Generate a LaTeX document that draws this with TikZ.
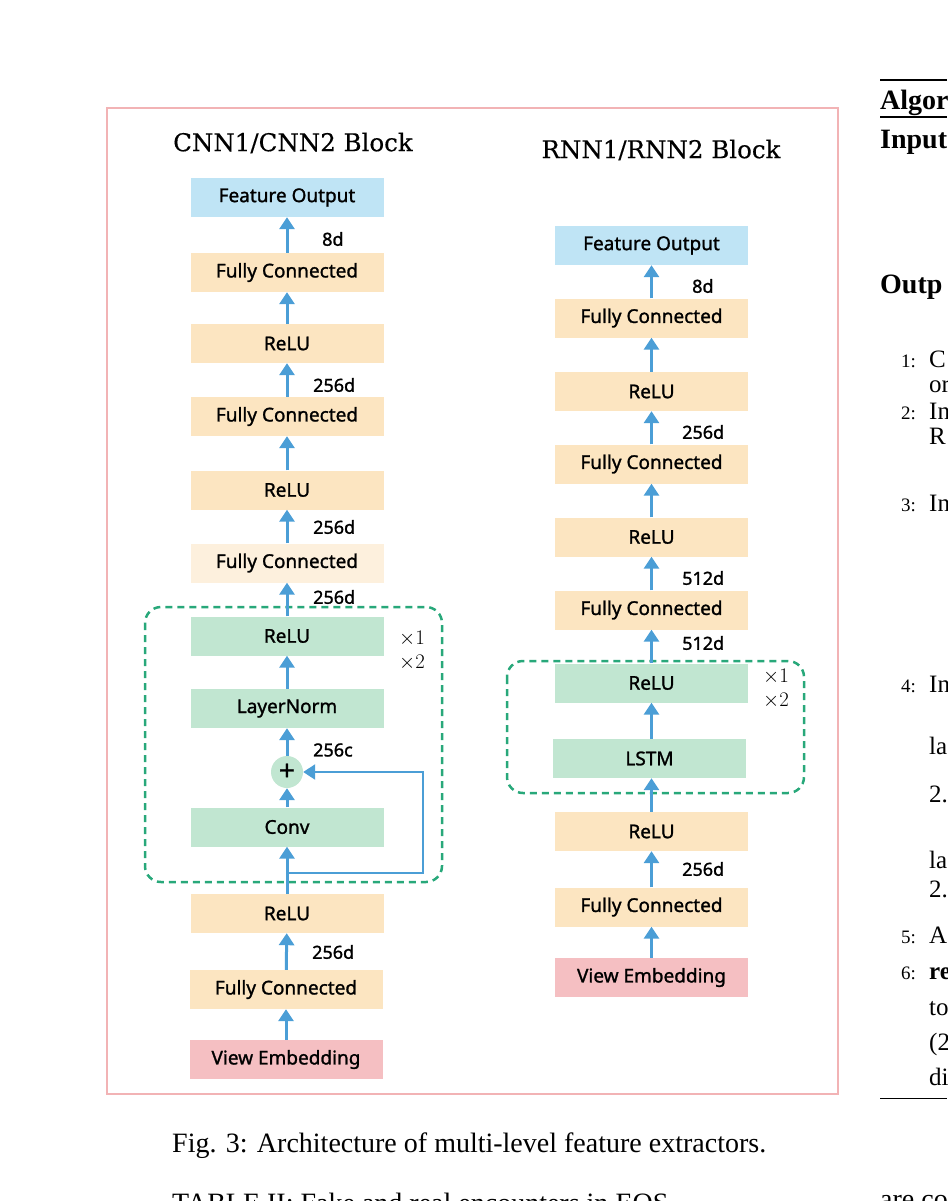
\documentclass[tikz,border=0pt]{standalone}
\usepackage{fontspec}
\usetikzlibrary{arrows.meta}
\newfontfamily\boxfont{Noto Sans}[FakeBold=1.3]
\newfontfamily\titlefont{DejaVu Serif}[FakeBold=0.4]
\newfontfamily\paperfont{Liberation Serif}
\definecolor{fcorange}{HTML}{FCE5C1}
\definecolor{fclight}{HTML}{FDF0DD}
\definecolor{outblue}{HTML}{BFE4F5}
\definecolor{blockgreen}{HTML}{C1E6D1}
\definecolor{embpink}{HTML}{F5BFC2}
\definecolor{arrowblue}{HTML}{4B9ED6}
\definecolor{dashgreen}{HTML}{28A87A}
\definecolor{framepink}{HTML}{F2B3B5}

\begin{document}
\begin{tikzpicture}[x=1pt,y=-1pt,
  box/.style={minimum width=193pt,minimum height=39pt,inner sep=0pt,
    font=\boxfont\fontsize{19}{22}\selectfont},
  fcbox/.style={box,fill=fcorange},
  outbox/.style={box,fill=outblue},
  grbox/.style={box,fill=blockgreen},
  embbox/.style={box,fill=embpink},
  link/.style={draw=arrowblue,line width=3pt,-{Triangle[width=15pt,length=12pt]}},
  skiplink/.style={link,line width=2.5pt},
  loopbox/.style={draw=dashgreen,line width=2.5pt,dash pattern=on 7pt off 5pt,rounded corners=16pt},
  dimlabel/.style={anchor=west,inner sep=0pt,font=\boxfont\fontsize{18}{20}\selectfont},
  replabel/.style={anchor=west,inner sep=0pt,align=left,font=\fontsize{22}{24}\selectfont},
  blocktitle/.style={inner sep=0pt,font=\titlefont\fontsize{24.5}{28}\selectfont},
  ptext/.style={anchor=base west,inner sep=0pt,font=\paperfont\fontsize{28}{34}\selectfont},
  pline/.style={anchor=base west,inner sep=0pt,font=\paperfont\fontsize{25}{30}\selectfont},
  pnum/.style={anchor=base east,inner sep=0pt,font=\paperfont\fontsize{19}{24}\selectfont}]
\useasboundingbox (0,0) rectangle (947,1201);
\clip (0,0) rectangle (947,1201);

\draw[framepink,line width=2pt] (107,108) rectangle (838,1094);
\node[blocktitle] (cnntitle) at (293,143) {CNN1/CNN2 Block};
\node[blocktitle] (rnntitle) at (661,150) {RNN1/RNN2 Block};

% CNN block
\draw[loopbox] (145,607) rectangle (442,882);
\node[outbox] (cout) at (287,197.5) {Feature Output};
\node[fcbox] (cfc3) at (287,272.5) {Fully Connected};
\node[fcbox] (crelu3) at (287,343.5) {ReLU};
\node[fcbox] (cfc2) at (287,416.5) {Fully Connected};
\node[fcbox] (crelu2) at (287,490) {ReLU};
\node[box,fill=fclight] (cfc1) at (287,563) {Fully Connected};
\node[grbox] (crelu1) at (287,636) {ReLU};
\node[grbox] (cnorm) at (287,708.5) {LayerNorm};
\node[circle,fill=blockgreen,minimum size=32pt,inner sep=0pt,
  font=\boxfont\fontsize{28}{28}\selectfont] (cadd) at (287,772) {+};
\node[grbox] (cconv) at (287,827) {Conv};
\node[fcbox] (crelu0) at (287,913.5) {ReLU};
\node[fcbox] (cfc0) at (286,989.5) {Fully Connected};
\node[embbox] (cemb) at (286,1059.5) {View Embedding};
\coordinate (cskip) at (287,873);

\draw[link] (cemb) -- (cfc0);
\draw[link] (cfc0) -- (crelu0);
\draw[link] (crelu0) -- (cconv);
\draw[link] (cconv) -- (cadd);
\draw[link] (cadd) -- (cnorm);
\draw[link] (cnorm) -- (crelu1);
\draw[link] (crelu1) -- (cfc1);
\draw[link] (cfc1) -- (crelu2);
\draw[link] (crelu2) -- (cfc2);
\draw[link] (cfc2) -- (crelu3);
\draw[link] (crelu3) -- (cfc3);
\draw[link] (cfc3) -- (cout);
\draw[skiplink] (cskip) -- ++(136,0) |- (cadd);

\node[dimlabel] (cd8) at (322,239) {8d};
\node[dimlabel] (cd256a) at (313,385) {256d};
\node[dimlabel] (cd256b) at (313,527) {256d};
\node[dimlabel] (cd256c) at (313,597) {256d};
\node[dimlabel] (cc256) at (313,750) {256c};
\node[dimlabel] (cd256d) at (312,952) {256d};
\node[replabel] (crep) at (399,651) {$\times 1$\\$\times 2$};

% RNN block
\draw[loopbox] (507,661) rectangle (804,793);
\node[outbox] (rout) at (651.5,245.5) {Feature Output};
\node[fcbox] (rfc3) at (651.5,318) {Fully Connected};
\node[fcbox] (rrelu3) at (651.5,391.5) {ReLU};
\node[fcbox] (rfc2) at (651.5,464) {Fully Connected};
\node[fcbox] (rrelu2) at (651.5,537) {ReLU};
\node[fcbox] (rfc1) at (651.5,610) {Fully Connected};
\node[grbox] (rrelu1) at (651.5,683) {ReLU};
\node[grbox] (rlstm) at (649.5,758.5) {LSTM};
\node[fcbox] (rrelu0) at (651.5,831.5) {ReLU};
\node[fcbox] (rfc0) at (651.5,907) {Fully Connected};
\node[embbox] (remb) at (651.5,977.5) {View Embedding};

\draw[link] (remb) -- (rfc0);
\draw[link] (rfc0) -- (rrelu0);
\draw[link] (rrelu0.north) -- (rrelu0.north |- rlstm.south);
\draw[link] (rlstm.north -| rrelu1.south) -- (rrelu1);
\draw[link] (rrelu1) -- (rfc1);
\draw[link] (rfc1) -- (rrelu2);
\draw[link] (rrelu2) -- (rfc2);
\draw[link] (rfc2) -- (rrelu3);
\draw[link] (rrelu3) -- (rfc3);
\draw[link] (rfc3) -- (rout);

\node[dimlabel] (rd8) at (692,286) {8d};
\node[dimlabel] (rd256a) at (682,432) {256d};
\node[dimlabel] (rd512a) at (682,578) {512d};
\node[dimlabel] (rd512b) at (682,643) {512d};
\node[dimlabel] (rd256b) at (682,869) {256d};
\node[replabel] (rrep) at (763,689) {$\times 1$\\$\times 2$};

% page text round the figure
\node[ptext] (caption) at (172,1152) {Fig. 3: Architecture of multi-level feature extractors.};
\node[ptext] (tabcap) at (172,1212) {TABLE II: Fake and real encounters in EOS};
\draw[line width=2pt] (880,80) -- (947,80);
\draw[line width=1.2pt] (880,117) -- (947,117);
\draw[line width=1pt] (880,1098) -- (947,1098);
\node[ptext] (alg) at (880,110) {\bfseries Algor};
\node[ptext] (inp) at (880,149) {\bfseries Input};
\node[ptext] (outp) at (880,293) {\bfseries Outp};
\node[pnum] (n1) at (916,367) {1:};
\node[pline] (s1) at (929,367) {C};
\node[pline] (s1b) at (929,392) {or};
\node[pnum] (n2) at (916,419) {2:};
\node[pline] (s2) at (929,419) {In};
\node[pline] (s2b) at (929,444) {R};
\node[pnum] (n3) at (916,511) {3:};
\node[pline] (s3) at (929,511) {In};
\node[pnum] (n4) at (916,692) {4:};
\node[pline] (s4) at (929,692) {In};
\node[pline] (s4b) at (929,754) {la};
\node[pline] (s4c) at (929,802) {2.};
\node[pline] (s4d) at (929,868) {la};
\node[pline] (s4e) at (929,897) {2.};
\node[pnum] (n5) at (916,943) {5:};
\node[pline] (s5) at (929,943) {A};
\node[pnum] (n6) at (916,979) {6:};
\node[pline] (s6) at (929,979) {\bfseries re};
\node[pline] (s6b) at (929,1015) {to};
\node[pline] (s6c) at (929,1050) {(2};
\node[pline] (s6d) at (929,1085) {di};
\node[ptext] (areco) at (880,1208) {are co};
\end{tikzpicture}
\end{document}
